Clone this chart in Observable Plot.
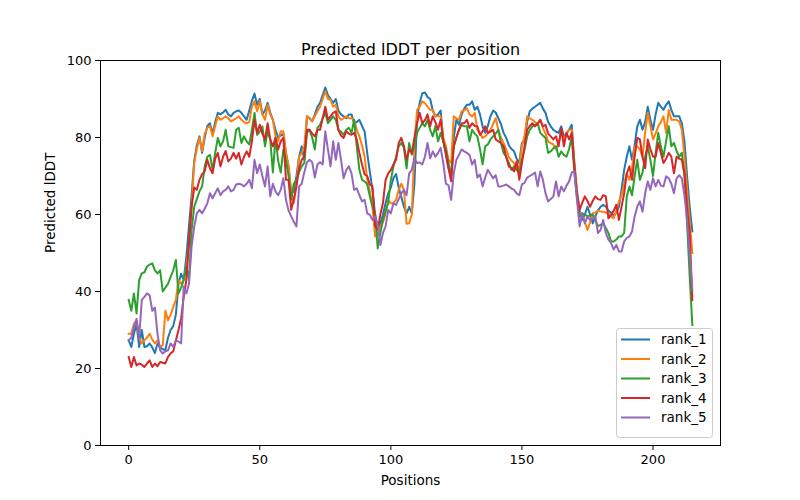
<!DOCTYPE html>
<html>
<head>
<meta charset="utf-8">
<script src="https://cdn.jsdelivr.net/npm/d3@7"></script>
<script src="https://cdn.jsdelivr.net/npm/@observablehq/plot@0.6"></script>
<style>
  html, body { margin: 0; padding: 0; background: #fff; }
  #chart { width: 800px; height: 500px; }
  svg { font-family: "DejaVu Sans", sans-serif; }
</style>
</head>
<body>
<div id="chart"></div>
<script>
const title = "Predicted lDDT per position";
const xLabel = "Positions";
const yLabel = "Predicted lDDT";
const seriesNames = ["rank_1", "rank_2", "rank_3", "rank_4", "rank_5"];
const seriesColors = ["#1f77b4", "#ff7f0e", "#2ca02c", "#d62728", "#9467bd"];
const xTicks = [0, 50, 100, 150, 200];
const yTicks = [0, 20, 40, 60, 80, 100];

const rank_1 = [27.3,25.6,29,31.5,25.6,30,25.6,25.8,26.5,25.5,24,26.5,25.5,25,24.8,28,30,31,34,42,
44.6,43,49,57,65,74,78,80.3,76,80,83,83.7,81,84,86.4,86,86.5,87.2,86,85.5,
86.4,86.8,87,86.4,85.5,84.6,87,89.5,91.4,88.5,90,86,87,89,86.5,84.6,82,80,80.5,81,
76,72.5,65.5,66,70,75,77.7,74.2,85.5,85,84.2,86,88,89,91,93,91,90,89,90,
87,86,85.5,85,86,86,83.7,84,84.6,83,81.6,75.9,71,66.4,60,56.4,57.6,60,63,65.5,
67,69.5,70.5,67,64.5,62,60.3,62,60.3,68,85,89,91.5,91.7,90.5,90,87,85.5,86,87,
79.5,75.4,72,70,80,84.6,83.3,86,87.5,88.5,88.5,89.4,87.2,88,86,82.9,81.2,83,85.5,87,
86.5,85,83.5,81.2,79.9,78,77,76.4,74.5,73.4,78.6,79,84,86.8,87.5,88,88.5,89,87.5,86.4,
84,82.9,82,81.5,81.2,82.9,80.3,81,82,83.3,73.4,65.5,61,58.6,60,62,60,57.7,59.5,61,
62,62.5,62,61,60.5,59.7,60.5,62,66.4,71.6,75,77.7,74.2,78,82.9,84.6,82,84,88,84.6,
82,86,89,88,87.2,88.5,89.4,87.2,85.5,85.5,85.5,83.7,79,69.9,62,55.6];

const rank_2 = [29,29,31.6,32.5,28,26.5,27.3,28,29,27.5,26.5,27.3,25.6,26,35,32.5,34,36,37.8,43,
42,43,46.5,52,62,73.4,77,80,76.4,81,82.5,83,80.3,83,85.5,84.6,85,85.5,85,84.2,
84.6,85,85.5,84.6,84,83.7,84,88,89.4,86.8,89.4,86,84.6,88.5,86,84.6,80.3,79,81.6,81.6,
76,72.5,65.5,63,68,75,76,77.7,85.5,85,84.2,85.5,86.8,88,90,92,90,89.8,88,88.5,
85.5,84.6,85,85.5,85,85,84.6,82,80.3,78,75,69,66,62,54.3,55,57,58,60.3,63.8,
62.9,63,63.8,66.4,68,66.4,57.6,57.7,60,77.7,87.2,88,89.4,88.9,88,87.2,87.2,85.5,85.5,85.5,
80,77.7,74.2,73.4,85.5,85,84.6,86.8,87,87.6,86,85.5,86.4,82,81,79.9,80.3,81,82,83.5,
85,82,80,78.6,76.9,75,74,73.4,71.6,72.5,77.7,80.3,85.5,85,84.6,84,83.7,84.6,82.5,81,
79,78.5,78.2,76.9,78.5,81.2,79.5,81.2,82,82,73.4,66.4,60.3,60.3,58,56,58,60.3,60.5,61,
60.8,60.7,60.5,60.3,59.5,59,61,63.4,65,68,70.7,69,72,77.7,77.7,76.9,75,81.2,86.4,83,
79.5,81,82.9,84,85.5,81.2,87.2,84.6,84.6,84.6,84.2,82,75,66.4,58,50];

const rank_3 = [37.8,35,39.5,34.3,43,44.7,45,46.5,47,47.3,45.5,44.7,45.5,40,41,42,43.8,45.5,48.2,39.5,
41,43,46.5,43,56,62,64,66,67.3,72.5,75,75.5,71.6,76,79.9,77.7,79,82,77.7,77.5,
77.3,82,82.5,78.6,80.3,79,78.2,82,86.4,80.7,81.5,82.9,77.7,81.6,79.5,70.9,79.9,74,70.9,76.9,
74,70,63.8,68,69,71,72.5,73.4,81.2,82,80,76.9,82.5,83.3,85,86.4,83.7,84.6,85.5,84.6,
82,81.5,80.7,82,82.5,81.2,84.6,77.7,71.6,69,68.6,67.8,64.7,62,60.3,51.2,55.2,58.6,61,63,
69,72.5,75,77.7,78.6,77.3,72,78.6,75.5,78,81.2,82.5,83.7,82.9,84.6,82,80.3,82.9,79,81.2,
79,76.9,73.4,70,77.7,80,82,83.3,82.9,82.9,79,82,81,80.3,77,73,77.7,78.2,79.5,80.3,
81,82,78.6,76,75,73.4,71.6,72.5,71.5,70.9,74.2,76.9,80.3,82,82.9,83.3,83.7,81.2,80.5,79.9,
76,76.4,77.2,77.7,75,76.4,75.5,75,77,80.3,70.9,64.7,59.5,60.3,60,59.5,59.8,60,58.5,57,
57.3,57.7,56.5,55.2,53,53,53.5,54.3,54.3,55.2,64.7,67.3,65,70,74.2,69,70.9,75,77.7,74.2,
70,76,81.2,77.7,75,79,82.9,77.7,78.6,76.5,75,76,70,57.7,44,31.3];

const rank_4 = [23,20.4,23,20.8,21.3,21,20.4,21.3,22.1,20.4,21.3,20.6,21.7,21.5,21.3,23,23.9,24.5,27.3,30,
33,38.6,43,53,62,67,66.4,69,70.5,71.2,74.2,72,70.7,74.5,76,72.5,75,76.5,73.8,74.5,
76,74.5,76,73,75,76.4,75,79,84.6,81.2,83.3,81,79.5,83.7,79.5,77.7,79.9,76.9,79,79.9,
69,69,61.2,64,67.3,72,74.2,75,82,82,81,80.3,82,82,85,88,84.6,85.5,86.4,86.8,
82,80.5,79.9,81.6,81,80.7,81.2,79.5,76,73,70.4,70,67.8,67.3,57,56,60,63,69,70.7,
71.6,73,74.2,78.6,79.9,77.7,74.2,76.9,76,80,83.7,86.4,83.7,84.5,86,82.9,85.5,84,82,84.6,
79,76,72,68.6,77.7,80,82,83.7,83.7,84.6,82.5,83.7,83,82.9,80.7,81.6,82.9,81.2,81.5,82,
79.5,79,78.6,77.7,75,72.5,72,71.2,73.8,69,73.4,77.7,82,83,83.7,82.9,83.5,84.6,82.9,83.3,
81,80.3,79.5,80.3,77.7,82.5,77.7,81.2,79.5,81.2,72.5,65.5,61.2,63,64.7,63.5,62,63.5,64.7,64,
63.8,65,64.7,59,59.9,61,62.5,58.6,62,65.5,70.7,72.5,69,75,79.9,79.5,75,72,79.5,77,
75,75,78.6,76,73.4,74.5,76,75,70.7,75,74.5,74.2,70.7,62,55.2,37.8];

const rank_5 = [27.3,28,30.7,32.9,28,37.8,38.6,39.5,39,35,35.8,29,24.7,23.9,24.5,24.7,26.5,25.6,27.3,27,
26.5,41.3,39.5,42,51.7,56.9,60.3,61.2,60.3,61.5,62.9,65.5,64.2,65.5,66.8,65,66,66.4,67.3,66,
66.4,67.8,68,67.8,67.3,68,69,66.8,74.2,70.7,73,70,67.3,72.5,64.7,68,66,65,66.4,69.4,
63.8,61,59.5,58.1,56.9,67.3,68,71,73.6,74.2,73.6,69.6,73,73.6,73,81.6,76.9,72.5,79,74.2,
78.6,74.2,69.4,71.6,72.5,70.7,66.4,66.8,65,63.4,63.8,60.3,59.9,58.6,59.5,57.3,52.1,55.2,56.9,61.2,
60.3,62.9,62.5,64,65.5,66.4,65,70.7,71.6,74.6,73.4,73.5,73,75,78.6,74.6,76.4,75,76,77.3,
73.4,68,67.6,63.8,70.7,74.2,75.5,76.9,76.4,76,75.5,73,74.2,69.6,70.4,67.3,69.6,71.6,70.5,69.4,
70.2,67.3,67.3,67.5,67.8,67.3,66.8,66.4,65.5,65,67.8,68.2,69.6,70,70.4,70.9,67.3,71.2,69,65.5,
63.4,64,64.7,68.6,64.7,67.3,66,67.5,68.6,70.9,71.2,63.8,56.9,60.3,57.7,59.5,58.6,59,59.5,55.2,
56,58.6,55.2,53.5,52.6,50.9,52.1,50.4,50.4,53,53.9,54.3,55.6,59.5,62,63.4,60.7,65.5,68.6,66.4,
69.4,67.3,69,67.5,67.3,69.9,69.4,68,65.5,69.4,70.2,69.4,65,58.6,50,40.4];

const seriesValues = [rank_1, rank_2, rank_3, rank_4, rank_5];
const table = [];
seriesNames.forEach((name, s) => {
  seriesValues[s].forEach((v, i) => table.push({ rank: name, pos: i, value: v }));
});

const font = "DejaVu Sans, sans-serif";

const chart = Plot.plot({
  width: 800,
  height: 500,
  marginTop: 60,
  marginRight: 80,
  marginBottom: 55,
  marginLeft: 100,
  style: { fontFamily: font, background: "#fff", color: "#000", overflow: "visible" },
  x: { domain: [-10.75, 225.75] },
  y: { domain: [0, 100] },
  color: { domain: seriesNames, range: seriesColors },
  marks: [
    Plot.lineY(table, { x: "pos", y: "value", z: "rank", stroke: "rank", strokeWidth: 2, strokeLinejoin: "round", strokeLinecap: "square" }),
    Plot.frame({ stroke: "#000", strokeWidth: 1 }),
    Plot.axisX({ ticks: xTicks, tickSize: 5, tickPadding: 4, fontSize: 13, label: null, stroke: "#000" }),
    Plot.axisY({ ticks: yTicks, tickSize: 5, tickPadding: 4, fontSize: 13, label: null, stroke: "#000" }),
    Plot.text([title], { frameAnchor: "top", lineAnchor: "bottom", dy: -6, fontSize: 16, fill: "#000" }),
    Plot.text([xLabel], { frameAnchor: "bottom", lineAnchor: "middle", dy: 35, fontSize: 13.5, fill: "#000" }),
    Plot.text([yLabel], { frameAnchor: "left", lineAnchor: "middle", dx: -50, rotate: -90, fontSize: 13.5, fill: "#000" })
  ]
});

document.getElementById("chart").appendChild(chart);

// legend (lower right, inside axes)
const svg = d3.select(chart);
const lg = svg.append("g").attr("font-family", font).attr("font-size", 13.5).attr("text-anchor", "start");
lg.append("rect")
  .attr("x", 616.5).attr("y", 328.5).attr("width", 96).attr("height", 109)
  .attr("rx", 3).attr("fill", "#fff").attr("fill-opacity", 0.8)
  .attr("stroke", "#cccccc").attr("stroke-width", 1);
seriesNames.forEach((name, k) => {
  const cy = 339.5 + k * 19.5;
  lg.append("line").attr("x1", 621).attr("x2", 650).attr("y1", cy).attr("y2", cy)
    .attr("stroke", seriesColors[k]).attr("stroke-width", 2);
  lg.append("text").attr("x", 661).attr("y", cy).attr("dy", "0.35em")
    .attr("text-anchor", "start").attr("fill", "#000").text(name);
});
</script>
</body>
</html>
